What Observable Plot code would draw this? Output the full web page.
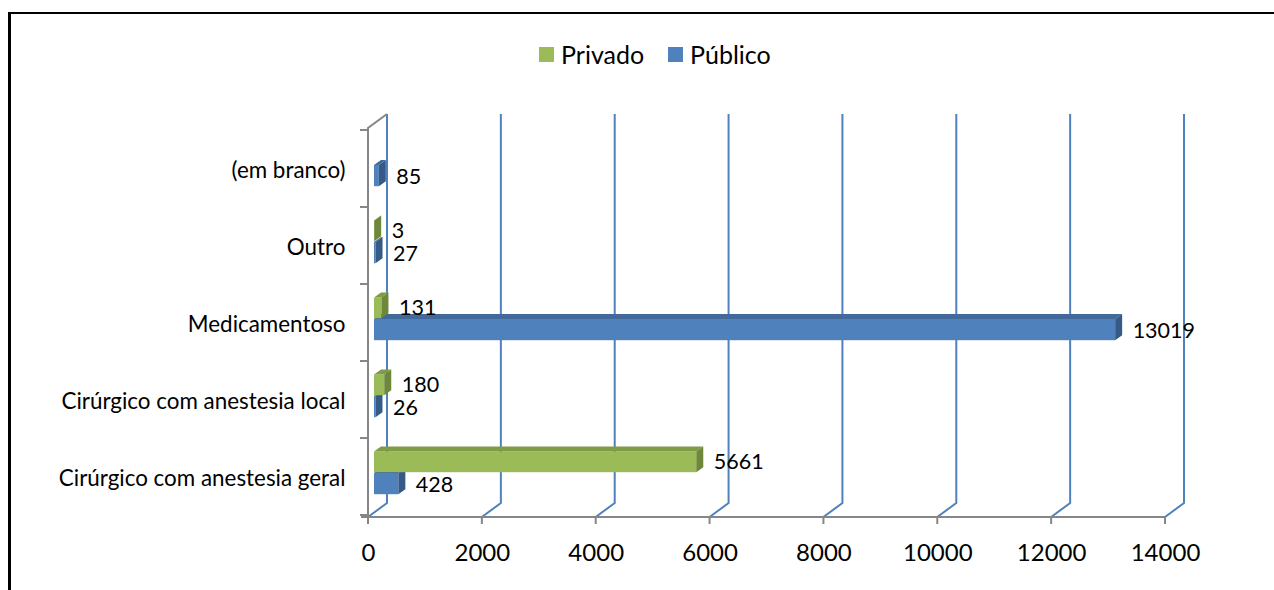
<!DOCTYPE html>
<html>
<head>
<meta charset="utf-8">
<script src="https://cdn.jsdelivr.net/npm/d3@7"></script>
<script src="https://cdn.jsdelivr.net/npm/@observablehq/plot@0.6"></script>
<style>
  body { margin: 0; background: #fff; font-family: Lato, "Open Sans", sans-serif; color: #000; }
  #page { position: relative; width: 1274px; height: 590px; overflow: hidden; background: #fff; }
  #frame { position: absolute; left: 8px; top: 12px; right: 0; bottom: 0; border-top: 2px solid #000; border-left: 3px solid #000; }
  #legend { position: absolute; top: 39px; left: 539px; display: flex; align-items: center; font-size: 25px; line-height: 30px; }
  #legend .item { display: flex; align-items: center; margin-right: 24px; }
  #legend .swatch { width: 15px; height: 15px; margin-right: 7px; }
  #chart { position: absolute; left: 0; top: 100px; }
</style>
</head>
<body>
<div id="page">
  <div id="frame"></div>
  <div id="legend"></div>
  <div id="chart"></div>
</div>
<script>
// Tipo de procedimento por setor (privado / público)
const categories = [
  "(em branco)",
  "Outro",
  "Medicamentoso",
  "Cirúrgico com anestesia local",
  "Cirúrgico com anestesia geral"
];
const privado = [null, 3, 131, 180, 5661];
const publico = [85, 27, 13019, 26, 428];
const seriesNames = ["Privado", "Público"];
const xTicks = [0, 2000, 4000, 6000, 8000, 10000, 12000, 14000];

// colours: front face, top face, side face
const colors = {
  "Privado": {front: "#9BBB59", top: "#7E9B45", side: "#6E883B"},
  "Público": {front: "#4F81BD", top: "#41699A", side: "#355A86"}
};
const GRID = "#4F81BD";
const AXIS = "#868686";

// wall depth (back wall offset) and bar depth, in pixels
const WX = 19, WY = 14;
const BX = 6, BDX = 7, BDY = 5;

const rowsPrivado = categories.map((c, i) => ({category: c, value: privado[i]})).filter(d => d.value != null);
const rowsPublico = categories.map((c, i) => ({category: c, value: publico[i]})).filter(d => d.value != null);

// legend
const legend = document.getElementById("legend");
for (const s of seriesNames) {
  const item = document.createElement("div");
  item.className = "item";
  const sw = document.createElement("div");
  sw.className = "swatch";
  sw.style.background = colors[s].front;
  const label = document.createElement("span");
  label.textContent = s;
  item.append(sw, label);
  legend.append(item);
}

// back wall, side wall and floor of the 3-D frame
function walls(index, scales, values, dims) {
  const {x, y} = scales;
  const x0 = x(0);
  const y0 = dims.marginTop;
  const yb = dims.height - dims.marginBottom;
  const g = d3.create("svg:g").attr("fill", "none");
  for (const t of xTicks) {
    const px = x(t);
    g.append("path")
      .attr("d", `M${px},${yb}L${px + WX},${yb - WY}V${y0 - WY}`)
      .attr("stroke", GRID).attr("stroke-width", 2);
  }
  g.append("path")
    .attr("d", `M${x0},${yb}V${y0}L${x0 + WX},${y0 - WY}`)
    .attr("stroke", AXIS).attr("stroke-width", 2);
  const edges = categories.map(c => y(c)).concat([y(categories[categories.length - 1]) + y.bandwidth()]);
  for (const py of edges) {
    g.append("path").attr("d", `M${x0 - 8},${py}H${x0}`).attr("stroke", AXIS).attr("stroke-width", 2);
  }
  g.append("path")
    .attr("d", `M${x0 - 7},${yb}H${x(xTicks[xTicks.length - 1])}`)
    .attr("stroke", AXIS).attr("stroke-width", 2);
  for (const t of xTicks) {
    g.append("path").attr("d", `M${x(t)},${yb}V${yb + 7}`).attr("stroke", AXIS).attr("stroke-width", 2);
  }
  return g.node();
}

// bar with a top face and a side face
function bars3d(data, name, insetTop, insetBottom) {
  const c = colors[name];
  return Plot.barX(data, {
    x: "value",
    y: "category",
    fill: c.front,
    insetTop,
    insetBottom,
    dx: BX,
    render(index, scales, values, dimensions, context, next) {
      const g = next(index, scales, values, dimensions, context);
      const bw = scales.y.bandwidth();
      const sel = d3.select(g);
      for (const i of index) {
        const x1 = values.x1[i], x2 = values.x2[i];
        const y1 = values.y[i] + insetTop;
        const y2 = values.y[i] + bw - insetBottom;
        sel.append("path")
          .attr("d", `M${x1},${y1}L${x2},${y1}L${x2 + BDX},${y1 - BDY}L${x1 + BDX},${y1 - BDY}Z`)
          .attr("fill", c.top);
        sel.append("path")
          .attr("d", `M${x2},${y1}L${x2 + BDX},${y1 - BDY}L${x2 + BDX},${y2 - BDY}L${x2},${y2}Z`)
          .attr("fill", c.side);
      }
      return g;
    }
  });
}

const chart = Plot.plot({
  width: 1274,
  height: 490,
  marginLeft: 368,
  marginRight: 109,
  marginTop: 28,
  marginBottom: 73,
  style: {background: "transparent", color: "#000", fontFamily: "Lato, 'Open Sans', sans-serif"},
  x: {domain: [0, 14000]},
  y: {domain: categories, padding: 0},
  marks: [
    walls,
    bars3d(rowsPublico, "Público", 35, 20.8),
    bars3d(rowsPrivado, "Privado", 13.5, 42.8),
    Plot.text(rowsPrivado, {x: "value", y: "category", text: d => String(d.value), dx: 23, dy: -15, textAnchor: "start", fontSize: 21.5, fill: "#000"}),
    Plot.text(rowsPublico, {x: "value", y: "category", text: d => String(d.value), dx: 23, dy: 8, textAnchor: "start", fontSize: 21.5, fill: "#000"}),
    Plot.axisY({tickSize: 0, tickPadding: 23, fontSize: 22.4, label: null, dy: 2}),
    Plot.axisX({ticks: xTicks, tickSize: 0, tickPadding: 26, fontSize: 24, label: null, tickFormat: d => String(d)})
  ]
});
document.getElementById("chart").append(chart);
</script>
</body>
</html>
